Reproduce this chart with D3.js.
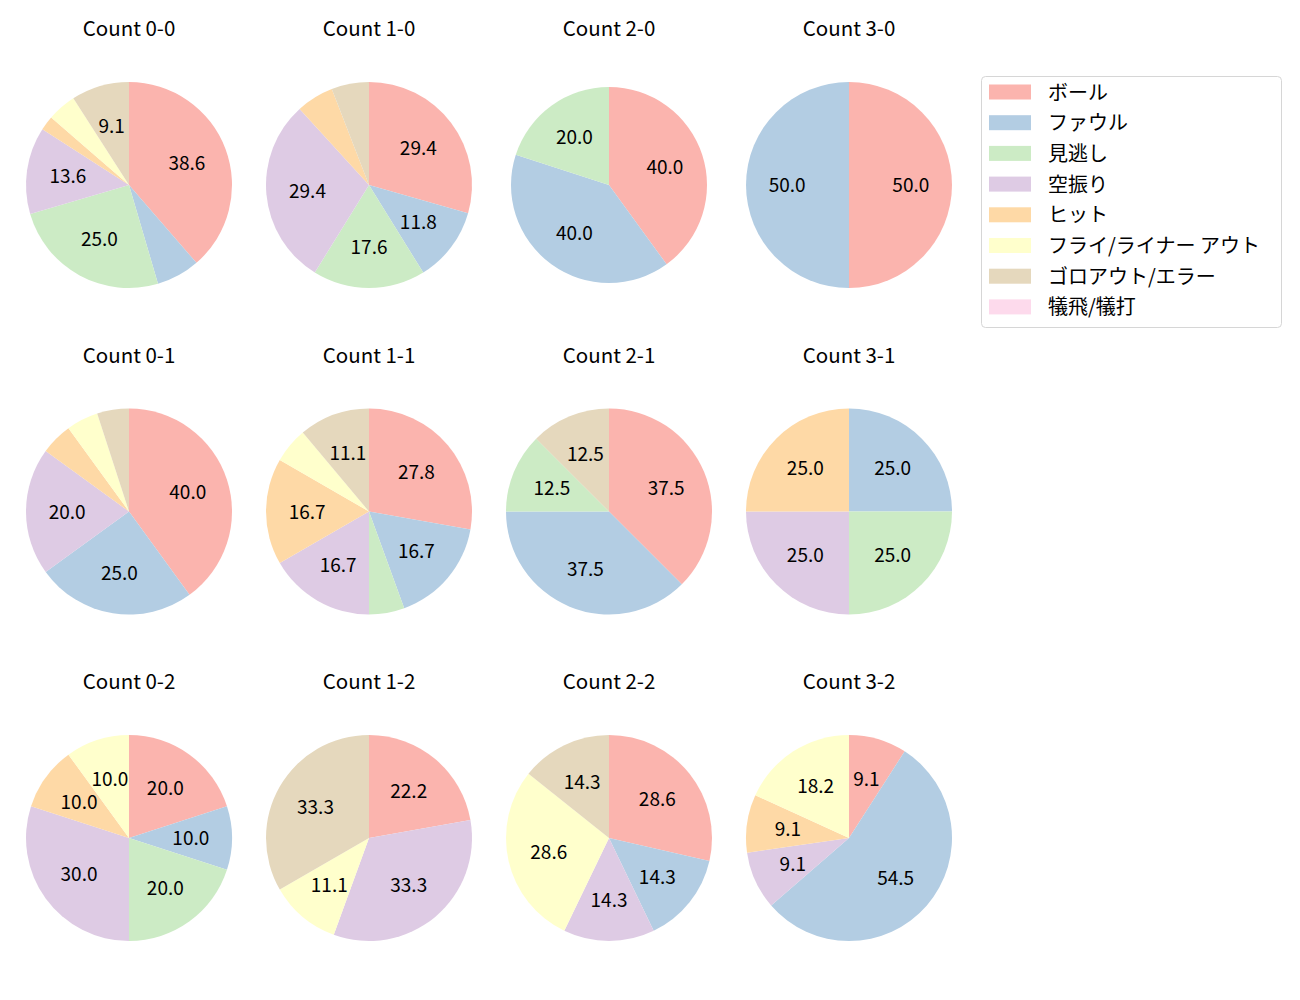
<!DOCTYPE html>
<html>
<head>
<meta charset="utf-8">
<script src="https://cdn.jsdelivr.net/npm/d3@7"></script>
<style>
    body { margin: 0; background: #fff; }
    svg { display: block; font-family: "Noto Sans CJK JP", "Noto Sans", sans-serif; }
</style>
</head>
<body>
<svg id="chart" width="1300" height="1000"></svg>
<script>
    // legend categories, in pie order
    const categories = ["ボール", "ファウル", "見逃し", "空振り", "ヒット", "フライ/ライナー アウト", "ゴロアウト/エラー", "犠飛/犠打"];
    const colors = ["#fbb4ae", "#b3cde3", "#ccebc5", "#decbe4", "#fed9a6", "#ffffcc", "#e5d8bd", "#fddaec"];

    // ball-strike counts, row by row
    const countLabels = [
        "Count 0-0", "Count 1-0", "Count 2-0", "Count 3-0",
        "Count 0-1", "Count 1-1", "Count 2-1", "Count 3-1",
        "Count 0-2", "Count 1-2", "Count 2-2", "Count 3-2"
    ];

    // pitches per category (same order as categories)
    const c00 = [17, 3, 11, 6, 1, 2, 4, 0];
    const c10 = [5, 2, 3, 5, 1, 0, 1, 0];
    const c20 = [2, 2, 1, 0, 0, 0, 0, 0];
    const c30 = [1, 1, 0, 0, 0, 0, 0, 0];
    const c01 = [8, 5, 0, 4, 1, 1, 1, 0];
    const c11 = [5, 3, 1, 3, 3, 1, 2, 0];
    const c21 = [3, 3, 1, 0, 0, 0, 1, 0];
    const c31 = [0, 1, 1, 1, 1, 0, 0, 0];
    const c02 = [2, 1, 2, 3, 1, 1, 0, 0];
    const c12 = [2, 0, 0, 3, 0, 1, 3, 0];
    const c22 = [2, 1, 0, 1, 0, 2, 1, 0];
    const c32 = [1, 6, 0, 1, 1, 2, 0, 0];

    const countValues = [c00, c10, c20, c30, c01, c11, c21, c31, c02, c12, c22, c32];

    const svg = d3.select("#chart");

    const x = d3.scalePoint().domain([0, 1, 2, 3]).range([129, 849]);
    const y = d3.scalePoint().domain([0, 1, 2]).range([185, 838]);
    const color = d3.scaleOrdinal().domain(categories).range(colors);

    const pie = d3.pie().sort(null).value(d => d.value);

    countValues.forEach((vals, i) => {
        // the 2-0 pie comes out a bit smaller in the original
        const radius = i === 2 ? 98 : 103;
        const arc = d3.arc().innerRadius(0).outerRadius(radius);
        const labelArc = d3.arc().innerRadius(radius * 0.6).outerRadius(radius * 0.6);

        const total = d3.sum(vals);
        const data = vals.map((v, k) => ({key: categories[k], value: v}));
        const cy = y(Math.floor(i / 4));
        const g = svg.append("g")
            .attr("transform", `translate(${x(i % 4)},${cy})`);

        g.append("text")
            .attr("y", -158)
            .attr("text-anchor", "middle")
            .attr("dominant-baseline", "central")
            .attr("font-size", 20.5)
            .attr("fill", "#000")
            .text(countLabels[i]);

        const arcs = pie(data);

        g.selectAll("path")
            .data(arcs)
            .join("path")
            .attr("d", arc)
            .attr("fill", d => color(d.data.key));

        g.selectAll(".lbl")
            .data(arcs.filter(d => d.data.value / total * 100 >= 7))
            .join("text")
            .attr("class", "lbl")
            .attr("transform", d => `translate(${labelArc.centroid(d)})`)
            .attr("dy", -1.5)
            .attr("text-anchor", "middle")
            .attr("dominant-baseline", "central")
            .attr("font-size", 19)
            .attr("fill", "#000")
            .text(d => (d.data.value / total * 100).toFixed(1));
    });

    // legend
    const legend = svg.append("g").attr("transform", "translate(981,76)");

    legend.append("rect")
        .attr("x", 0.5)
        .attr("y", 0.5)
        .attr("width", 300)
        .attr("height", 251)
        .attr("rx", 4)
        .attr("fill", "#fff")
        .attr("stroke", "#d6d6d6");

    const item = legend.selectAll(".item")
        .data(categories)
        .join("g")
        .attr("class", "item")
        .attr("transform", (d, i) => `translate(0,${16 + i * 30.7})`);

    item.append("rect")
        .attr("x", 8)
        .attr("y", -7.5)
        .attr("width", 42)
        .attr("height", 15)
        .attr("fill", d => color(d));

    item.append("text")
        .attr("x", 67)
        .attr("y", -1)
        .attr("dominant-baseline", "central")
        .attr("font-size", 20)
        .attr("fill", "#000")
        .text(d => d);
</script>
</body>
</html>
